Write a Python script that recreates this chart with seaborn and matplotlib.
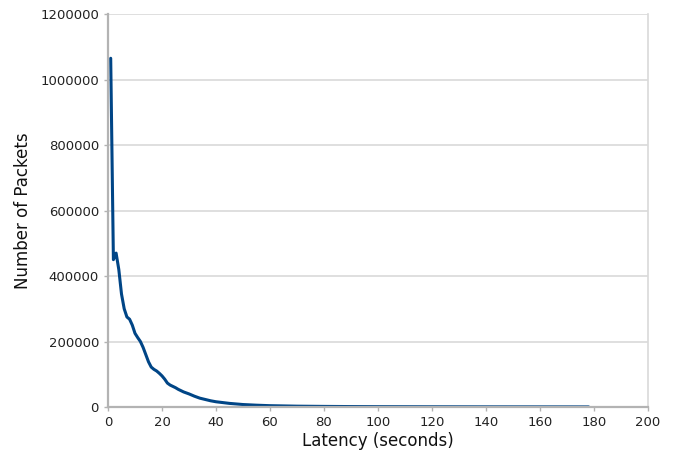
import matplotlib
matplotlib.use("Agg")
import matplotlib.pyplot as plt
import seaborn as sns
import pandas as pd

# Values
latency = [1, 2, 3, 4, 5, 6, 7, 8, 9, 10, 11, 12, 13, 14, 15, 16, 17, 18, 19, 20,
           21, 22, 23, 24, 25, 26, 27, 28, 30, 32, 34, 36, 38, 40, 45, 50, 55, 60,
           70, 80, 90, 100, 120, 140, 160, 178]
packets = [1065000, 450000, 470000, 420000, 345000, 300000, 275000, 268000, 250000, 225000,
           212000, 200000, 182000, 160000, 138000, 122000, 115000, 110000, 103000, 95000,
           85000, 73000, 67000, 63000, 59000, 54000, 50000, 46000, 40000, 33000,
           27000, 23000, 19000, 16000, 11000, 7500, 5500, 4000,
           2500, 1800, 1300, 1000, 700, 500, 400, 300]

x_ticks = [0, 20, 40, 60, 80, 100, 120, 140, 160, 180, 200]
y_ticks = [0, 200000, 400000, 600000, 800000, 1000000, 1200000]

df = pd.DataFrame({"Latency": latency, "Packets": packets})

sns.set_style("white")
plt.rcParams["font.family"] = ["DejaVu Sans"]

fig = plt.figure(figsize=(6.75, 4.59), dpi=100)
ax = fig.add_axes([0.16, 0.1133, 0.8, 0.856])

sns.lineplot(data=df, x="Latency", y="Packets", ax=ax, color="#004586", linewidth=2.2)

ax.set_xlim(0, 200)
ax.set_ylim(0, 1200000)
ax.set_xticks(x_ticks)
ax.set_yticks(y_ticks)
ax.set_xticklabels([str(t) for t in x_ticks])
ax.set_yticklabels([str(t) for t in y_ticks])
ax.tick_params(axis="both", labelsize=9.5, colors="#b3b3b3", labelcolor="#222222",
               length=3, width=1, direction="out", bottom=True, left=True)

ax.grid(axis="y", color="#d9d9d9", linewidth=1.2)
ax.set_axisbelow(True)
for side in ["left", "bottom"]:
    ax.spines[side].set_color("#b3b3b3")
    ax.spines[side].set_linewidth(1.6)
ax.spines["right"].set_color("#d9d9d9")
ax.spines["right"].set_linewidth(1.2)
ax.spines["top"].set_visible(False)

ax.set_xlabel("Latency (seconds)", fontsize=12, color="#111111", labelpad=2)
ax.set_ylabel("Number of Packets", fontsize=12, color="#111111", labelpad=6)

fig.savefig("out.png", dpi=100, facecolor="white")
